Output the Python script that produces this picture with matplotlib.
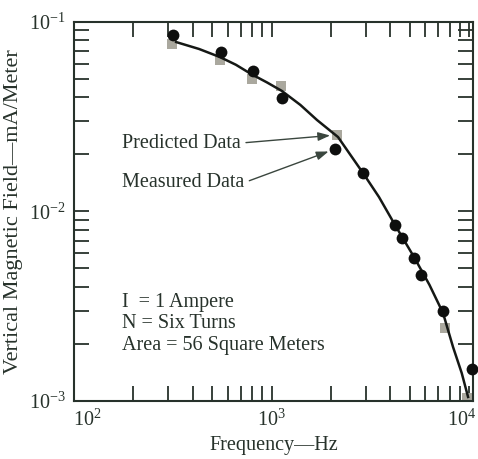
import matplotlib
matplotlib.use("Agg")
import matplotlib.pyplot as plt
from matplotlib.ticker import LogLocator, NullFormatter
from matplotlib.transforms import ScaledTranslation

plt.rcParams['font.family'] = ['Liberation Serif', 'DejaVu Serif']
plt.rcParams['mathtext.fontset'] = 'custom'
plt.rcParams['mathtext.rm'] = 'Liberation Serif'

INK = '#27322b'

# Predicted data (gray squares)
pred_freq = [313, 548, 797, 1117, 2146, 7557, 9772]
pred_field = [0.0763, 0.0628, 0.0499, 0.0458, 0.0253, 0.00242, 0.00104]

# Measured data (black dots)
meas_freq = [317, 555, 806, 1130, 2097, 2906, 4220, 4580, 5267, 5715, 7384, 10356]
meas_field = [0.0851, 0.0692, 0.0550, 0.0396, 0.0213, 0.0159, 0.00847, 0.00723,
              0.00567, 0.00461, 0.00298, 0.00147]

# Fitted curve
curve_freq = [329, 430, 548, 660, 788, 950, 1130, 1400, 1700, 2171, 2906, 3500,
              4220, 5267, 6300, 7384, 8299, 9183, 9886]
curve_field = [0.0781, 0.0718, 0.0651, 0.0593, 0.0530, 0.0478, 0.0431, 0.0364,
               0.0303, 0.02465, 0.01592, 0.0119, 0.00847, 0.00574, 0.0041,
               0.00291, 0.001925, 0.001403, 0.00105]

fig = plt.figure(figsize=(4.78, 4.59), dpi=100)
ax = fig.add_axes([0.1548, 0.1264, 0.8347, 0.8263])

ax.plot(pred_freq, pred_field, 's', color='#aaa89e', markersize=7.5,
        markeredgewidth=0, zorder=2)
ax.plot(curve_freq, curve_field, '-', color='#151815', lw=1.8, zorder=3)
ax.plot(meas_freq, meas_field, 'o', color='#0e0f0e', markersize=8.5,
        markeredgewidth=0, zorder=4, clip_on=False)

ax.set_xscale('log')
ax.set_yscale('log')
ax.set_xlim(100, 10470)
ax.set_ylim(1e-3, 1e-1)

ax.xaxis.set_minor_locator(LogLocator(base=10, subs=range(2, 10)))
ax.yaxis.set_minor_locator(LogLocator(base=10, subs=range(2, 10)))
ax.xaxis.set_minor_formatter(NullFormatter())
ax.yaxis.set_minor_formatter(NullFormatter())

for s in ax.spines.values():
    s.set_linewidth(1.5)
    s.set_color(INK)
ax.tick_params(which='both', direction='in', length=11, width=1.3,
               top=True, right=True, colors=INK, labelsize=14.5, pad=6)

ax.set_xlabel('Frequency\u2014Hz', fontsize=14.5, color=INK, labelpad=4)
ax.set_ylabel('Vertical Magnetic Field\u2014mA/Meter', fontsize=16,
              color=INK, labelpad=4)

arrow = dict(arrowstyle='-|>,head_length=0.5,head_width=0.18', color='#3a463e',
             lw=1.0, relpos=(1, 0.5), shrinkA=2, shrinkB=5)
ax.annotate('Predicted Data', xy=(pred_freq[4], pred_field[4]),
            xytext=(0.1195, 0.680), textcoords='axes fraction',
            ha='left', va='center', fontsize=14.5, color=INK, arrowprops=arrow)
ax.annotate('Measured Data', xy=(meas_freq[4], meas_field[4]),
            xytext=(0.1195, 0.5755), textcoords='axes fraction',
            ha='left', va='center', fontsize=14.5, color=INK, arrowprops=arrow)

info = ['I  = 1 Ampere', 'N = Six Turns', 'Area = 56 Square Meters']
for i, line in enumerate(info):
    ax.text(0.1195, 0.2584 - i * 0.0554, line, transform=ax.transAxes,
            ha='left', va='center', fontsize=14.5, color=INK)

# nudge the end x labels like the original drawing
fig.canvas.draw()
xlabels = ax.get_xticklabels()
for lab, pos in zip(xlabels, ax.get_xticks()):
    if abs(pos - 100) < 1:
        lab.set_transform(lab.get_transform() + ScaledTranslation(13 / 100, 0, fig.dpi_scale_trans))
    elif abs(pos - 10000) < 1:
        lab.set_transform(lab.get_transform() + ScaledTranslation(-7 / 100, 0, fig.dpi_scale_trans))

fig.savefig('out.png', dpi=100)
